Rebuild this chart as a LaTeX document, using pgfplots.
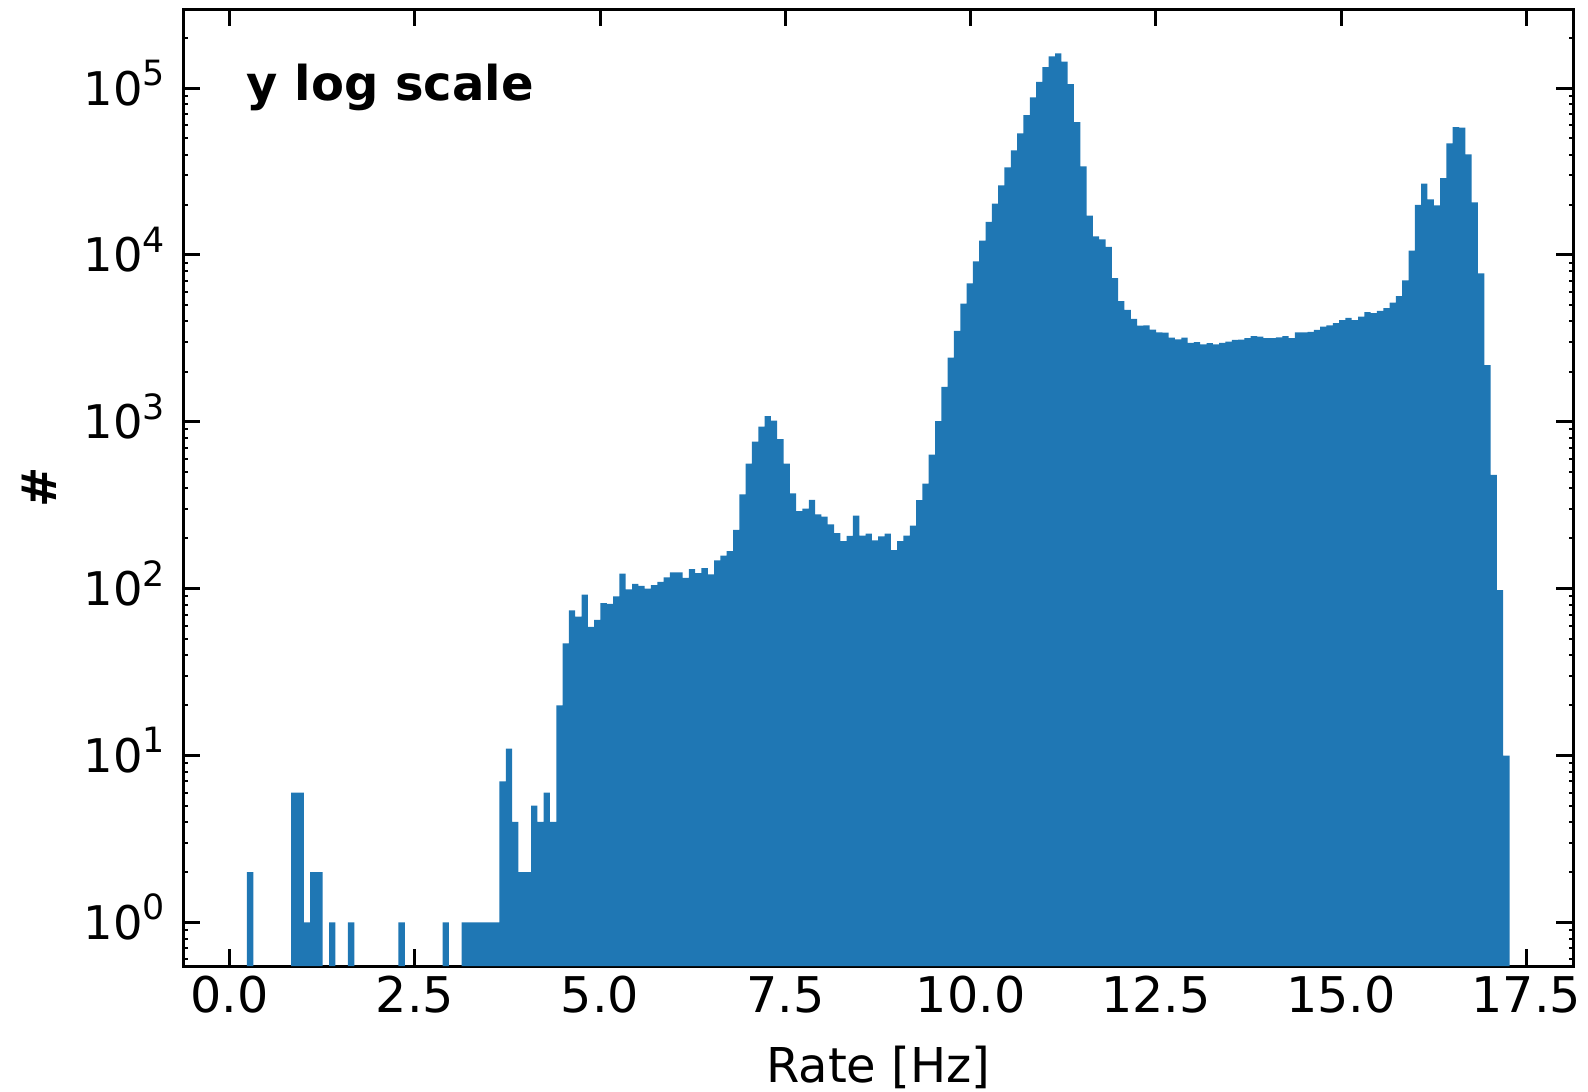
\documentclass[border=0pt]{standalone}
\usepackage{fontspec}
\setmainfont{DejaVu Sans}
\usepackage{pgfplots}
\pgfplotsset{compat=1.18}
\definecolor{c1}{HTML}{1F77B4}
\newcommand{\pw}[1]{10\raisebox{4.9pt}{\fontsize{8.7}{10}\selectfont #1}}
\begin{document}
\fontsize{12}{14.5}\selectfont
\begin{tikzpicture}
\begin{axis}[
  scale only axis, width=347.5pt, height=239.2pt,
  xmin=-0.625, xmax=18.135,
  ymode=log, ymin=0.547, ymax=2.97e5,
  log origin y=infty,
  axis line style={line width=0.75pt},
  tick align=inside,
  major tick length=4.25pt, minor tick length=1.1pt,
  major tick style={line width=0.75pt, black},
  minor tick style={line width=0.5pt, black},
  xtick={0,2.5,5,7.5,10,12.5,15,17.5},
  xticklabels={0.0,2.5,5.0,7.5,10.0,12.5,15.0,17.5},
  ytick={1,10,100,1000,10000,100000},
  yticklabels={\pw{0},\pw{1},\pw{2},\pw{3},\pw{4},\pw{5}},
  minor ytick={0.6,0.7,0.8,0.9,2,3,4,5,6,7,8,9,20,30,40,50,60,70,80,90,200,300,400,500,600,700,800,900,2000,3000,4000,5000,6000,7000,8000,9000,20000,30000,40000,50000,60000,70000,80000,90000,200000},
  xticklabel style={font=\fontsize{12.3}{15}\selectfont, anchor=base, yshift=-11.7pt},
  yticklabel style={font=\fontsize{11.6}{14}\selectfont, anchor=base east, inner sep=0pt, xshift=-4.4pt, yshift=-4.25pt},
  xlabel={Rate [Hz]},
  ylabel={\bfseries \#},
  label style={font=\fontsize{12}{14.5}\selectfont},
  xlabel style={at={(axis description cs:0.5,-0.1213)}, anchor=base},
  ylabel style={at={(axis description cs:-0.1036,0.5)}, anchor=center},
]
\addplot[ybar, bar width=0.0852, bar shift=0pt, fill=c1, draw=none] table {
x y
0.2766 2
0.8730 6
0.9582 6
1.0434 1
1.1286 2
1.2138 2
1.3842 1
1.6398 1
2.3214 1
2.9178 1
3.1734 1
3.2586 1
3.3438 1
3.4290 1
3.5142 1
3.5994 1
3.6846 7
3.7698 11
3.8550 4
3.9402 2
4.0254 2
4.1106 5
4.1958 4
4.2810 6
4.3662 4
4.4514 20
4.5366 47
4.6218 74
4.7070 68
4.7922 92
4.8774 59
4.9626 65
5.0478 82
5.1330 81
5.2182 90
5.3034 123
5.3886 99
5.4738 107
5.5590 104
5.6442 100
5.7294 105
5.8146 110
5.8998 117
5.9850 125
6.0702 125
6.1554 116
6.2406 131
6.3258 124
6.4110 133
6.4962 122
6.5814 148
6.6666 158
6.7518 168
6.8370 225
6.9222 368
7.0074 562
7.0926 761
7.1778 935
7.2630 1080
7.3482 1017
7.4334 787
7.5186 562
7.6038 373
7.6890 292
7.7742 302
7.8594 341
7.9446 279
8.0298 270
8.1150 243
8.2002 215
8.2854 193
8.3706 207
8.4558 274
8.5410 208
8.6262 214
8.7114 195
8.7966 206
8.8818 214
8.9670 170
9.0522 193
9.1374 208
9.2226 239
9.3078 339
9.3930 426
9.4782 635
9.5634 1008
9.6486 1618
9.7338 2425
9.8190 3507
9.9042 5110
9.9894 6765
10.0746 9160
10.1598 12180
10.2450 15770
10.3302 20290
10.4154 26150
10.5006 33530
10.5858 42380
10.6710 53560
10.7562 69000
10.8414 88100
10.9266 109200
11.0118 133700
11.0970 155200
11.1822 161800
11.2674 144000
11.3526 105700
11.4378 62600
11.5230 34000
11.6082 17200
11.6934 12940
11.7786 12420
11.8638 11170
11.9490 7260
12.0342 5290
12.1194 4680
12.2046 4140
12.2898 3770
12.3750 3790
12.4602 3570
12.5454 3440
12.6306 3420
12.7158 3200
12.8010 3125
12.8862 3200
12.9714 2970
13.0566 3000
13.1418 2917
13.2270 2960
13.3122 2917
13.3974 2970
13.4826 3025
13.5678 3100
13.6530 3110
13.7382 3170
13.8234 3260
13.9086 3240
13.9938 3180
14.0790 3180
14.1642 3210
14.2494 3260
14.3346 3180
14.4198 3440
14.5050 3440
14.5902 3460
14.6754 3555
14.7606 3720
14.8458 3780
14.9310 3910
15.0162 4070
15.1014 4200
15.1866 4065
15.2718 4270
15.3570 4540
15.4422 4480
15.5274 4620
15.6126 4800
15.6978 5180
15.7830 5660
15.8682 7050
15.9534 10610
16.0386 19940
16.1238 26740
16.2090 21560
16.2942 19850
16.3794 28910
16.4646 46680
16.5498 58430
16.6350 58000
16.7202 40100
16.8054 20700
16.8906 7770
16.9758 2185
17.0610 481
17.1462 98
17.2314 10
};
\node[anchor=base west, font=\fontsize{12}{14.5}\selectfont\bfseries, inner sep=0pt] at (rel axis cs:0.0451,0.905) {y log scale};
\end{axis}
\pgfresetboundingbox
\path (current axis.south west) ++(-45.83pt,-31.25pt) rectangle ([xshift=3.675pt,yshift=2.325pt]current axis.north east);
\end{tikzpicture}
\end{document}
